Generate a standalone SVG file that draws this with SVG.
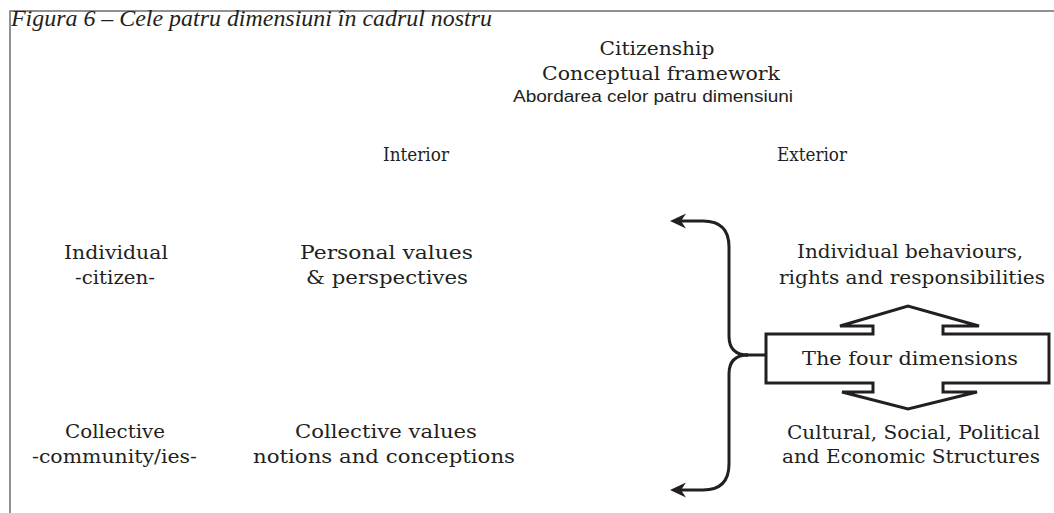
<svg xmlns="http://www.w3.org/2000/svg" width="1054" height="513" viewBox="0 0 1054 513">
<style>
.bg{fill:#ffffff}
.frame{fill:none;stroke:#6d6e71;stroke-width:1.5}
.t{font-family:"DejaVu Serif","Liberation Serif",serif;font-size:19px;fill:#231f20;text-anchor:middle}
.title{font-family:"Liberation Serif","Times New Roman",serif;font-style:italic;font-size:23px;fill:#231f20}
.sans{font-family:"Liberation Sans",Arial,sans-serif;font-size:16px;fill:#231f20;text-anchor:middle}
.ln{fill:none;stroke:#231f20;stroke-width:3}
.box{fill:#ffffff;stroke:#231f20;stroke-width:3;stroke-linejoin:miter}
</style>
<defs>
<marker id="ah" markerUnits="userSpaceOnUse" markerWidth="24" markerHeight="20" viewBox="-10 -10 20 20" refX="0" refY="0" orient="auto" overflow="visible">
<path d="M 8 0 L -8 -7.5 L -3 0 L -8 7.5 Z" fill="#231f20"/>
</marker>
</defs>
<rect class="bg" x="0" y="0" width="1054" height="513"/>
<g id="frame">
<path class="frame" d="M 10 513 V 11 H 1054"/>
</g>
<g id="title">
<text class="title" x="11" y="26" textLength="481" lengthAdjust="spacingAndGlyphs">Figura 6 – Cele patru dimensiuni în cadrul nostru</text>
</g>
<g id="header">
<text class="t" x="657" y="55" textLength="115" lengthAdjust="spacingAndGlyphs">Citizenship</text>
<text class="t" x="661" y="80" textLength="238" lengthAdjust="spacingAndGlyphs">Conceptual framework</text>
<text class="sans" x="653" y="102" textLength="280" lengthAdjust="spacingAndGlyphs">Abordarea celor patru dimensiuni</text>
</g>
<g id="col-interior">
<text class="t" x="416" y="161" textLength="66" lengthAdjust="spacingAndGlyphs">Interior</text>
</g>
<g id="col-exterior">
<text class="t" x="812" y="161" textLength="70" lengthAdjust="spacingAndGlyphs">Exterior</text>
</g>
<g id="row-individual">
<text class="t" x="116" y="259" textLength="104" lengthAdjust="spacingAndGlyphs">Individual</text>
<text class="t" x="115" y="284" textLength="80" lengthAdjust="spacingAndGlyphs">-citizen-</text>
</g>
<g id="row-collective">
<text class="t" x="115" y="438" textLength="100" lengthAdjust="spacingAndGlyphs">Collective</text>
<text class="t" x="114.5" y="463" textLength="165" lengthAdjust="spacingAndGlyphs">-community/ies-</text>
</g>
<g id="personal-values">
<text class="t" x="386.5" y="259" textLength="173" lengthAdjust="spacingAndGlyphs">Personal values</text>
<text class="t" x="387" y="284" textLength="162" lengthAdjust="spacingAndGlyphs">&amp; perspectives</text>
</g>
<g id="collective-values">
<text class="t" x="386" y="438" textLength="182" lengthAdjust="spacingAndGlyphs">Collective values</text>
<text class="t" x="384" y="463" textLength="262" lengthAdjust="spacingAndGlyphs">notions and conceptions</text>
</g>
<g id="individual-behaviours">
<text class="t" x="910" y="258" textLength="226" lengthAdjust="spacingAndGlyphs">Individual behaviours,</text>
<text class="t" x="912" y="284" textLength="266" lengthAdjust="spacingAndGlyphs">rights and responsibilities</text>
</g>
<g id="structures">
<text class="t" x="913.5" y="439" textLength="253" lengthAdjust="spacingAndGlyphs">Cultural, Social, Political</text>
<text class="t" x="911" y="463" textLength="258" lengthAdjust="spacingAndGlyphs">and Economic Structures</text>
</g>
<g id="connectors">
<path class="ln" d="M 748 355 Q 729 355 729 336 V 247 Q 729 221 703 221 H 678" marker-end="url(#ah)"/>
<path class="ln" d="M 748 355 Q 729 355 729 374 V 464 Q 729 490 703 490 H 678" marker-end="url(#ah)"/>
<path class="ln" d="M 745 355 H 767"/>
</g>
<g id="four-dimensions">
<path class="box" d="M 766 334 H 873 V 326 H 840 L 908 306 L 979 326 H 943 V 334 H 1049 V 383 H 943 V 392 H 977 L 908 409 L 842 392 H 873 V 383 H 766 Z"/>
<text class="t" x="910" y="365" textLength="216" lengthAdjust="spacingAndGlyphs">The four dimensions</text>
</g>
</svg>
